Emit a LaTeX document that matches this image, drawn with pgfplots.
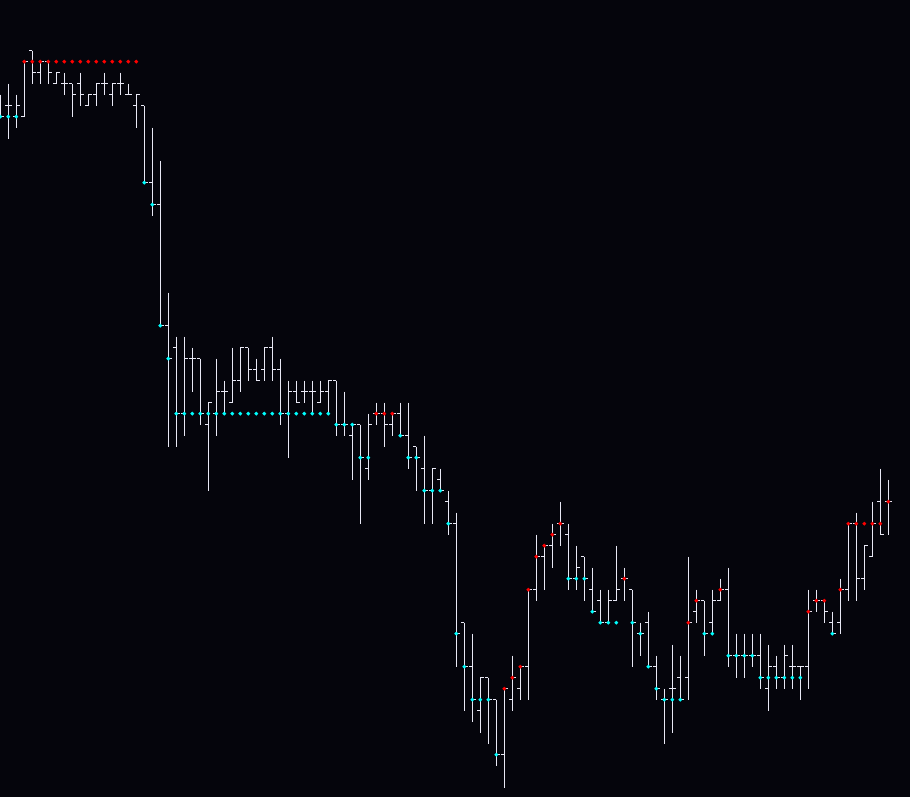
\documentclass[border=0pt]{standalone}
\usepackage{pgfplots}
\pgfplotsset{compat=1.18}
\usepackage{pgfplotstable}
\definecolor{bgc}{RGB}{5,5,12}
\definecolor{barc}{RGB}{232,232,245}
\definecolor{cyc}{RGB}{0,255,255}
\definecolor{rdc}{RGB}{255,0,0}
% price level k (one step = one price tick), larger k = lower price
\pgfplotstableread{
x o h l c r b
0 5 4 6 6 nan 6
1 5 3 8 5 nan 6
2 6 4 7 5 nan 6
3 6 1 6 1 1 nan
4 0 0 3 2 1 nan
5 2 1 3 1 1 nan
6 1 1 3 2 1 nan
7 3 2 3 2 1 nan
8 3 2 4 3 1 nan
9 3 3 6 4 1 nan
10 3 2 5 4 1 nan
11 5 4 5 4 1 nan
12 4 3 5 3 1 nan
13 3 2 4 3 1 nan
14 4 3 5 3 1 nan
15 3 2 4 3 1 nan
16 4 3 4 4 1 nan
17 5 4 7 4 1 nan
18 5 5 12 12 nan 12
19 12 7 15 14 nan 14
20 14 10 25 25 nan 25
21 25 22 36 28 nan 28
22 27 26 36 33 nan 33
23 33 26 35 28 nan 33
24 28 27 31 28 nan 33
25 28 28 34 33 nan 33
26 34 32 40 32 nan 33
27 33 28 35 31 nan 33
28 31 30 33 31 nan 33
29 32 27 32 30 nan 33
30 30 27 31 27 nan 33
31 27 27 30 29 nan 33
32 29 28 30 30 nan 33
33 29 27 30 27 nan 33
34 27 26 30 29 nan 33
35 29 28 34 33 nan 33
36 33 30 37 31 nan 33
37 31 30 32 32 nan 33
38 31 30 32 31 nan 33
39 31 30 33 31 nan 33
40 32 30 32 31 nan 33
41 31 30 33 30 nan 33
42 30 30 35 34 nan 34
43 34 31 35 34 nan 34
44 35 34 39 34 nan 34
45 34 34 43 37 nan 37
46 38 33 39 34 nan 37
47 33 32 34 33 33 nan
48 33 32 36 34 33 nan
49 34 33 35 33 33 nan
50 33 32 35 35 nan 35
51 35 32 38 37 nan 37
52 36 36 40 37 nan 37
53 38 35 43 40 nan 40
54 40 38 43 38 nan 40
55 39 38 40 40 nan 40
56 41 40 44 43 nan 43
57 43 42 56 53 nan 53
58 52 52 60 56 nan 56
59 56 53 61 59 nan 59
60 60 57 62 57 nan 59
61 57 57 63 59 nan 59
62 59 59 65 64 nan 64
63 64 58 67 58 58 nan
64 59 55 60 57 57 nan
65 58 56 59 56 56 nan
66 56 49 59 49 49 nan
67 49 44 50 46 46 nan
68 46 45 49 45 45 nan
69 45 43 47 44 44 nan
70 43 41 45 43 43 nan
71 44 43 49 48 nan 48
72 48 45 49 47 nan 48
73 46 46 50 48 nan 48
74 49 47 51 51 nan 51
75 50 49 52 52 nan 52
76 52 49 52 50 nan 52
77 50 45 50 49 nan 52
78 48 47 50 48 48 nan
79 49 49 56 52 nan 52
80 53 52 55 53 nan 53
81 52 51 56 56 nan 56
82 56 55 59 58 nan 58
83 59 58 63 59 nan 59
84 58 54 62 58 nan 59
85 57 55 59 59 nan 59
86 57 46 59 52 52 nan
87 51 49 52 50 50 nan
88 50 50 55 53 nan 53
89 52 49 53 50 nan 53
90 50 48 50 49 49 nan
91 49 47 56 55 nan 55
92 55 53 57 55 nan 55
93 55 53 57 55 nan 55
94 55 53 56 55 nan 55
95 55 53 58 57 nan 57
96 58 54 60 56 nan 57
97 56 55 58 57 nan 57
98 57 54 58 55 nan 57
99 56 54 58 56 nan 57
100 56 56 59 56 nan 57
101 56 49 58 51 51 nan
102 50 49 51 50 50 nan
103 50 50 52 51 50 nan
104 52 51 53 53 nan 53
105 52 48 53 49 49 nan
106 49 43 50 43 43 nan
107 43 42 50 48 43 nan
108 48 45 49 45 43 nan
109 46 41 46 43 43 nan
110 41 38 44 44 43 nan
111 41 39 44 41 41 nan
}\ohlc
\begin{document}
\begin{tikzpicture}
\begin{axis}[
  scale only axis, width=910pt, height=797pt,
  xmin=-0.0375, xmax=113.7125,
  ymin=-4.606, ymax=67.848, y dir=reverse,
  hide axis, clip=true, unbounded coords=discard]
\fill[bgc] (rel axis cs:0,0) rectangle (rel axis cs:1,1);
\coordinate (bbA) at (rel axis cs:0,0);
\coordinate (bbB) at (rel axis cs:1,1);
% high-low lines
\addplot[draw=none, mark=none, forget plot,
  error bars/.cd, y dir=plus, y explicit, error mark=none,
  error bar style={barc, line width=1pt}]
  table[x=x, y=h, y error expr=\thisrow{l}-\thisrow{h}] {\ohlc};
% open ticks
\addplot[draw=none, mark=none, forget plot,
  error bars/.cd, x dir=minus, x fixed=0.41, error mark=none,
  error bar style={barc, line width=1pt}]
  table[x=x, y=o] {\ohlc};
% close ticks
\addplot[draw=none, mark=none, forget plot,
  error bars/.cd, x dir=plus, x fixed=0.41, error mark=none,
  error bar style={barc, line width=1pt}]
  table[x=x, y=c] {\ohlc};
% indicator dots
\addplot[only marks, mark=*, mark size=1.7pt, color=rdc] table[x=x, y=r] {\ohlc};
\addplot[only marks, mark=*, mark size=1.7pt, color=cyc] table[x=x, y=b] {\ohlc};
\end{axis}
\pgfresetboundingbox
\path[use as bounding box] (bbA) rectangle (bbB);
\end{tikzpicture}
\end{document}
